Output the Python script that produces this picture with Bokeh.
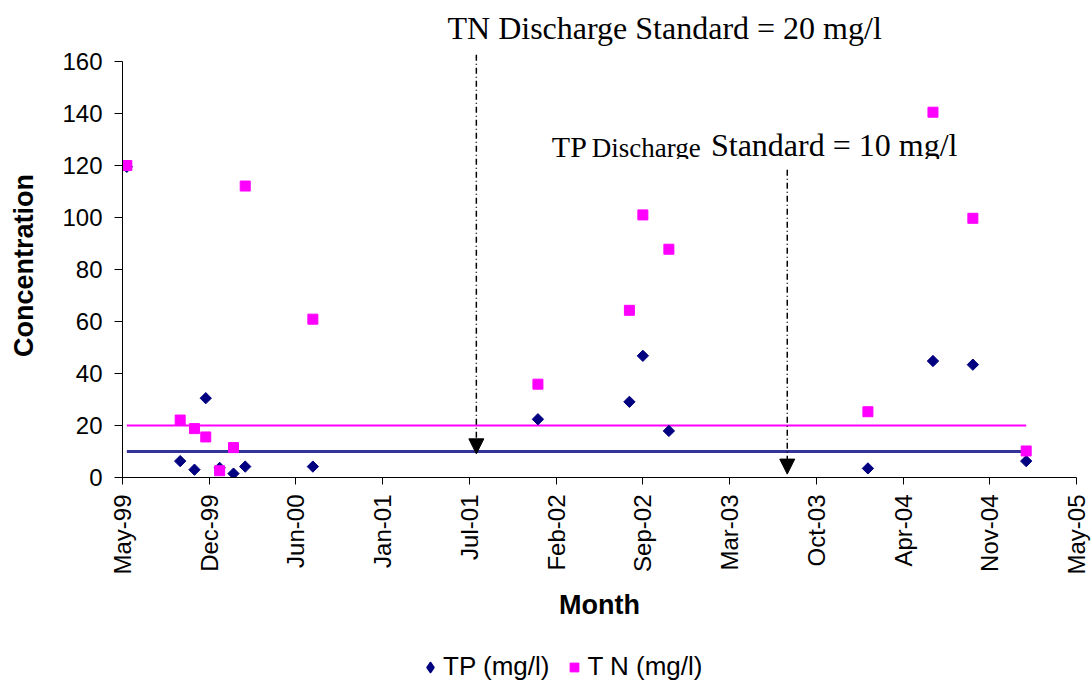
import numpy as np
import pandas as pd
from bokeh.plotting import figure
from bokeh.layouts import column
from bokeh.models import (Range1d, FixedTicker, Arrow, NormalHead, Label,
                          BoxAnnotation, Legend, LegendItem)
from bokeh.embed import file_html
from bokeh.resources import INLINE

# Monitoring samples: total phosphorus and total nitrogen (mg/l)
sample_dates = ["1999-05-30", "1999-09-30", "1999-11-02", "1999-11-28",
                "1999-12-30", "2000-01-31", "2000-02-27", "2000-08-01",
                "2002-01-02", "2002-08-01", "2002-09-01", "2002-10-31",
                "2004-02-02", "2004-07-01", "2004-10-01", "2005-02-01"]
tp_mg_l = [119.5, 6.3, 3.0, 30.5, 3.7, 1.5, 4.2, 4.2,
           22.4, 29.1, 46.8, 17.9, 3.5, 44.8, 43.4, 6.3]
tn_mg_l = [120.0, 22.1, 18.8, 15.6, 2.6, 11.5, 112.1, 60.9,
           35.9, 64.3, 101.0, 87.8, 25.3, 140.5, 99.7, 10.2]

# Discharge standards (mg/l)
tn_standard = 20
tp_standard = 10

# Axis ticks
x_tick_labels = ["May-99", "Dec-99", "Jun-00", "Jan-01", "Jul-01", "Feb-02",
                 "Sep-02", "Mar-03", "Oct-03", "Apr-04", "Nov-04", "May-05"]
y_ticks = [0, 20, 40, 60, 80, 100, 120, 140, 160]

SANS = "Liberation Sans"
SERIF = "Liberation Serif"
TP_COLOR = "#000080"
TN_COLOR = "#ff00ff"

W = 1091
MAIN_H = 622
KEY_H = 688 - MAIN_H

dates = pd.to_datetime(sample_dates)
axis_start = pd.Timestamp("1999-05-20")
tick_step_days = 200


def ms(ts):
    return int(ts.value // 10**6)


def day(n):
    return ms(axis_start + pd.Timedelta(days=n))


tick_ms = [day(tick_step_days * i) for i in range(len(x_tick_labels))]

p = figure(width=W, height=MAIN_H, x_axis_type="datetime",
           output_backend="svg", toolbar_location=None,
           min_border_left=122, min_border_right=15,
           min_border_top=53, min_border_bottom=MAIN_H - 477)
p.x_range = Range1d(tick_ms[0], tick_ms[-1])
# a little headroom above 160 leaves room for the top of the TN arrow
p.y_range = Range1d(0, 163.08)
p.outline_line_color = None
p.grid.visible = False
p.background_fill_color = "white"
p.border_fill_color = "white"

# TN standard caption sits above the plot area
p.title.text = "TN Discharge Standard = 20 mg/l"
p.title.text_font = SERIF
p.title.text_font_size = "32px"
p.title.text_font_style = "normal"
p.title.text_color = "black"
p.title.align = "left"
p.title.offset = 325
p.title.standoff = 15

# Standard lines across the sampling period
p.line([dates[0], dates[-1]], [tn_standard, tn_standard],
       line_color=TN_COLOR, line_width=2)
p.line([dates[0], dates[-1]], [tp_standard, tp_standard],
       line_color="#333399", line_width=3)

p.scatter(dates, tp_mg_l, marker="square", angle=np.pi / 4, size=8,
          fill_color=TP_COLOR, line_color=TP_COLOR)
p.scatter(dates, tn_mg_l, marker="square", size=10,
          fill_color=TN_COLOR, line_color=TN_COLOR)

# Axes
xa = p.xaxis[0]
xa.ticker = FixedTicker(ticks=tick_ms)
xa.major_label_overrides = {t: lab for t, lab in zip(tick_ms, x_tick_labels)}
xa.major_label_orientation = np.pi / 2
xa.minor_tick_line_color = None
xa.major_tick_in = 0
xa.major_tick_out = 7
xa.major_label_standoff = 10
xa.major_label_text_font = SANS
xa.major_label_text_font_size = "24px"
xa.major_label_text_color = "black"
xa.axis_label = "Month"
xa.axis_label_text_font = SANS
xa.axis_label_text_font_size = "27px"
xa.axis_label_text_font_style = "bold"
xa.axis_label_text_color = "black"
xa.axis_label_standoff = 12
xa.axis_line_color = "black"
xa.major_tick_line_color = "black"

ya = p.yaxis[0]
ya.bounds = (0, 160)
ya.ticker = FixedTicker(ticks=y_ticks)
ya.minor_tick_line_color = None
ya.major_tick_in = 0
ya.major_tick_out = 8
ya.major_label_standoff = 12
ya.major_label_text_font = SANS
ya.major_label_text_font_size = "24px"
ya.major_label_text_color = "black"
ya.axis_label = "Concentration"
ya.axis_label_text_font = SANS
ya.axis_label_text_font_size = "27px"
ya.axis_label_text_font_style = "bold"
ya.axis_label_text_color = "black"
ya.axis_label_standoff = 20
ya.axis_line_color = "black"
ya.major_tick_line_color = "black"

# TP standard caption (mixed type sizes)
for x_day, y, txt, size in [(990, 127.4, "TP", "30px"),
                            (1082, 126.9, "Discharge", "27px"),
                            (1357, 127.7, "Standard = 10 mg/l", "32px")]:
    p.add_layout(Label(x=day(x_day), y=y, text=txt, text_font=SERIF,
                       text_font_size=size, text_baseline="alphabetic",
                       text_color="black"))
# the caption box trims its descenders
p.add_layout(BoxAnnotation(left=day(975), right=day(1930), bottom=119.6,
                           top=122.5, fill_color="white", fill_alpha=1,
                           line_color=None))

for x_day, y0, y1 in [(816, 162.6, 9.1), (1533, 118.4, 1.3)]:
    p.add_layout(Arrow(x_start=day(x_day), y_start=y0, x_end=day(x_day), y_end=y1,
                       line_color="black", line_width=1.5, line_dash="6 3 1 3",
                       end=NormalHead(size=15, fill_color="black",
                                      line_color="black", line_width=1)))

# Series key in a strip under the chart; its ranges keep the series
# themselves out of view so only the legend swatches show.
k = figure(width=W, height=KEY_H, output_backend="svg", toolbar_location=None,
           x_axis_type=None, y_axis_type=None,
           x_range=Range1d(0, 1), y_range=Range1d(0, 1),
           min_border_left=0, min_border_right=0,
           min_border_top=0, min_border_bottom=0)
k.outline_line_color = None
k.grid.visible = False
tp_key = k.scatter(dates, tp_mg_l, marker="diamond", size=8,
                   fill_color=TP_COLOR, line_color=TP_COLOR,
                   line_width=2.5, line_join="round")
tn_key = k.scatter(dates, tn_mg_l, marker="square", size=10,
                   fill_color=TN_COLOR, line_color=TN_COLOR)
legend = Legend(items=[LegendItem(label="TP (mg/l)", renderers=[tp_key]),
                       LegendItem(label="T N (mg/l)", renderers=[tn_key])],
                orientation="horizontal", location=(297, 6),
                border_line_color=None, background_fill_alpha=0,
                padding=4, margin=0, spacing=14,
                glyph_width=22, glyph_height=22, label_height=22,
                label_standoff=2, label_text_font=SANS,
                label_text_font_size="26px", label_text_color="black")
k.add_layout(legend)

open("out.html", "w").write(file_html(column(p, k, spacing=0), INLINE))
